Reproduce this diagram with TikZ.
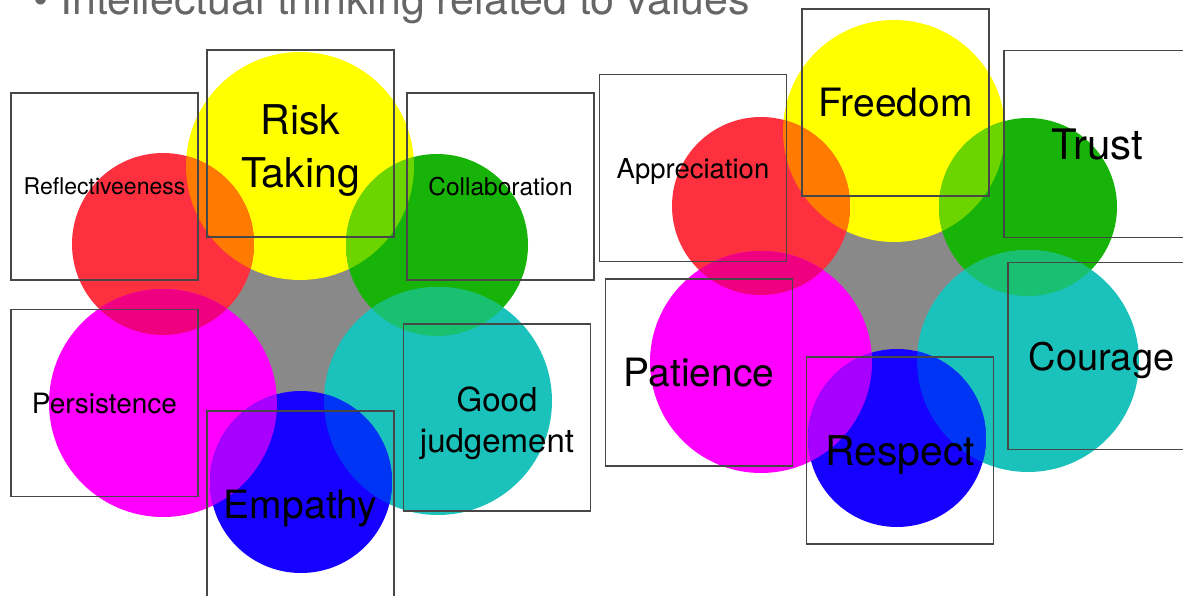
\documentclass[tikz,border=0pt]{standalone}
\usepackage{fontspec}
\setmainfont{TeX Gyre Heros}
\usetikzlibrary{positioning}

\definecolor{vgray}{HTML}{898989}
\definecolor{vyel}{HTML}{FFFF00}
\definecolor{vred}{HTML}{FC303E}
\definecolor{vgreen}{HTML}{17B308}
\definecolor{vmag}{HTML}{FF00FF}
\definecolor{vcyan}{HTML}{1AC2BB}
\definecolor{vblue}{HTML}{1600FF}
\definecolor{vorange}{HTML}{FF7A00}
\definecolor{vlime}{HTML}{6CD500}
\definecolor{vrose}{HTML}{EE0080}
\definecolor{vteal}{HTML}{19C070}
\definecolor{vviolet}{HTML}{A800FF}
\definecolor{vazure}{HTML}{0035F5}
\definecolor{titlegray}{HTML}{666666}

\newcommand\lblfont[2]{\fontsize{#1}{#2}\selectfont}

\tikzstyle{valuebox}=[rectangle,draw=black!72,line width=1.5pt,minimum width=187pt,minimum height=187pt,inner sep=0pt,align=center]
\tikzstyle{oneline}=[valuebox,text depth=-4pt]

\begin{document}
\begin{tikzpicture}[x=1pt,y=-1pt]
    \useasboundingbox (0,0) rectangle (1183,596);
    \clip (0,0) rectangle (1183,596);

    % circle centres of both clusters
    \foreach \pos/\name in {{(300,324)/L-mid}, {(300,166)/L-yel}, {(163,244)/L-red}, {(437,245)/L-green},
                            {(163,403)/L-mag}, {(438,401)/L-cyan}, {(301,482)/L-blue},
                            {(895,285)/R-mid}, {(894,131)/R-yel}, {(761,206)/R-red}, {(1028,207)/R-green},
                            {(761,362)/R-mag}, {(1028,361)/R-cyan}, {(897,438)/R-blue}}
        \node[coordinate] (\name) at \pos {};

    \foreach \k/\rb/\rs in {L/114/91, R/111/89} {
        \fill[vgray] (\k-mid) circle [radius=105pt];
        \foreach \c/\r in {yel/\rb, red/\rs, green/\rs, mag/\rb, cyan/\rb, blue/\rs}
            \fill[v\c] (\k-\c) circle [radius=\r*1pt];
        % overlaps between neighbouring circles
        \foreach \a/\ra/\b/\rr/\col in {yel/\rb/red/\rs/vorange, yel/\rb/green/\rs/vlime,
                                        red/\rs/mag/\rb/vrose, green/\rs/cyan/\rb/vteal,
                                        mag/\rb/blue/\rs/vviolet, cyan/\rb/blue/\rs/vazure} {
            \begin{scope}
                \clip (\k-\a) circle [radius=\ra*1pt];
                \fill[\col] (\k-\b) circle [radius=\rr*1pt];
            \end{scope}
        }
    }

    % left cluster
    \node[oneline,font=\lblfont{23}{28}] (reflect) at (104.5,186.5) {Reflectiveeness};
    \node[valuebox,font=\lblfont{41}{53}] (risk) at (300.5,143.5) {\rule{0pt}{44pt}Risk\\Taking};
    \node[oneline,font=\lblfont{24.5}{30}] (collab) at (500.5,186.5) {Collaboration};
    \node[oneline,font=\lblfont{28}{34}] (persist) at (104.5,403) {Persistence};
    \node[oneline,font=\lblfont{39}{47}] (empathy) at (300.5,504.5) {Empathy};
    \node[valuebox,font=\lblfont{33}{41}] (goodj) at (497,417.5) {\rule{0pt}{37pt}Good\\judgement};

    % right cluster
    \node[oneline,font=\lblfont{27.5}{33}] (apprec) at (693,168) {Appreciation};
    \node[oneline,font=\lblfont{39}{47}] (freedom) at (895.5,102.5) {Freedom};
    \node[oneline,font=\lblfont{42}{50}] (trust) at (1097.5,144) {Trust};
    \node[oneline,font=\lblfont{39}{47}] (patience) at (699,372.5) {Patience};
    \node[oneline,font=\lblfont{41}{49}] (respect) at (900,450.5) {Respect};
    \node[oneline,font=\lblfont{38}{46}] (courage) at (1101.5,356) {Courage};

    \node[anchor=base west,text=titlegray,inner sep=0pt,font=\lblfont{43}{50}] (title) at (33,15)
        {\textbullet\ Intellectual thinking related to values};
\end{tikzpicture}
\end{document}
